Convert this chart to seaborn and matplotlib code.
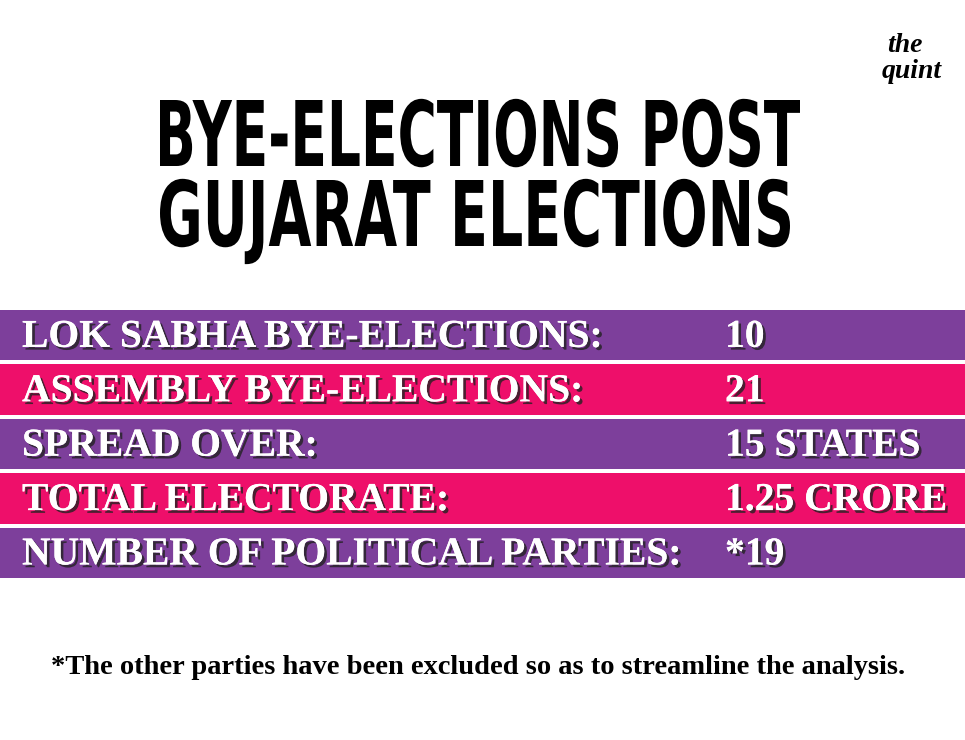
import matplotlib
matplotlib.use("Agg")
import matplotlib.pyplot as plt
import matplotlib.patheffects as pe
from matplotlib.textpath import TextPath
from matplotlib.font_manager import FontProperties
from matplotlib.patches import PathPatch
from matplotlib.transforms import Affine2D, IdentityTransform
import seaborn as sns
import pandas as pd

labels = ["LOK SABHA BYE-ELECTIONS:", "ASSEMBLY BYE-ELECTIONS:", "SPREAD OVER:",
          "TOTAL ELECTORATE:", "NUMBER OF POLITICAL PARTIES:"]
values = ["10", "21", "15 STATES", "1.25 CRORE", "*19"]
title_lines = ["BYE-ELECTIONS POST", "GUJARAT ELECTIONS"]
purple = "#7d3f9b"
pink = "#ee0f6a"
row_colors = [purple, pink, purple, pink, purple]

df = pd.DataFrame({"label": labels, "value": values, "full": [1] * len(labels)})

W, H = 965, 740
fig = plt.figure(figsize=(9.65, 7.4), dpi=100)
fig.patch.set_facecolor("white")

# rows area
ax = fig.add_axes([0, 1 - 580 / H, 1, 272 / H])
sns.barplot(data=df, x="full", y="label", hue="label", palette=row_colors,
            orient="h", width=0.93, saturation=1, legend=False, ax=ax)
ax.set_xlim(0, 1)
ax.set_ylim(len(labels) - 0.5, -0.5)
ax.axis("off")

shadow = [pe.withSimplePatchShadow(offset=(2, -2), shadow_rgbFace="#222222", alpha=0.8), pe.Normal()]
for i, (lab, val) in enumerate(zip(labels, values)):
    ax.text(22 / W, i + 0.04, lab, color="white", fontsize=28.5, fontweight="bold",
            family="Liberation Serif", va="center", ha="left", path_effects=shadow)
    ax.text(725 / W, i + 0.04, val, color="white", fontsize=28.5, fontweight="bold",
            family="Liberation Serif", va="center", ha="left", path_effects=shadow)

# title: condensed by squeezing glyph outlines into a box (x0, x1, top, bottom in px)
fp = FontProperties(family="DejaVu Sans", weight="bold")
boxes = [(160, 800, 100, 166), (160, 790, 180, 246)]
for line, (x0, x1, top, bot) in zip(title_lines, boxes):
    tp = TextPath((0, 0), line.replace("J", "J"), size=100, prop=fp)
    cap = TextPath((0, 0), "E", size=100, prop=fp).get_extents()
    ext = tp.get_extents()
    sx = (x1 - x0) / ext.width
    sy = (bot - top) / cap.height
    tr = Affine2D().translate(-ext.x0, -cap.y0).scale(sx, sy).translate(x0, H - bot)
    fig.patches.append(PathPatch(tr.transform_path(tp), color="black", lw=0,
                                 transform=IdentityTransform()))

# logo
fig.text(905 / W, 1 - 45 / H, "the", ha="center", va="center", fontsize=20,
         fontweight="bold", fontstyle="italic", family="Liberation Serif")
fig.text(912 / W, 1 - 72 / H, "quint", ha="center", va="center", fontsize=20,
         fontweight="bold", fontstyle="italic", family="Liberation Serif")

# footnote
fig.text(478 / W, 1 - 667 / H,
         "*The other parties have been excluded so as to streamline the analysis.",
         ha="center", va="center", fontsize=20.5, fontweight="bold", family="Liberation Serif")

fig.savefig("out.png", dpi=100, facecolor="white")
